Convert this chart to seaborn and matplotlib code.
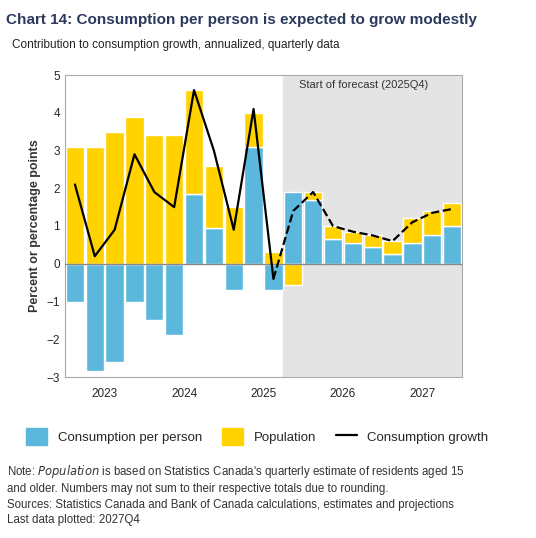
import numpy as np
import matplotlib
matplotlib.use("Agg")
import matplotlib.pyplot as plt
import seaborn as sns
from matplotlib.patches import Patch
from matplotlib.lines import Line2D

quarters = [f"{y}Q{q}" for y in range(2023, 2028) for q in range(1, 5)]
per_person = [-1.0, -2.85, -2.6, -1.0, -1.5, -1.9, 1.85, 0.95, -0.7, 3.1, -0.7,
              1.9, 1.7, 0.65, 0.55, 0.45, 0.25, 0.55, 0.75, 1.0]
population = [3.1, 3.1, 3.5, 3.9, 3.4, 3.4, 2.75, 1.65, 1.5, 0.9, 0.3,
              -0.55, 0.2, 0.35, 0.3, 0.3, 0.35, 0.65, 0.65, 0.6]
growth = [2.1, 0.2, 0.9, 2.9, 1.9, 1.5, 4.6, 3.0, 0.9, 4.1, -0.4,
          1.4, 1.9, 1.0, 0.85, 0.75, 0.6, 1.1, 1.35, 1.45]
years = ["2023", "2024", "2025", "2026", "2027"]
forecast_start = 11

sns.set_style("white")
plt.rcParams['font.family'] = ['Liberation Sans', 'DejaVu Sans']

BLUE = "#5BB8DC"
YELLOW = "#FFD200"

fig = plt.figure(figsize=(5.36, 5.38), dpi=100)
ax = fig.add_axes([65 / 536, 1 - 377 / 538, (462 - 65) / 536, (377 - 75) / 538])

x = np.arange(len(quarters))
pp = np.array(per_person)
pop = np.array(population)
# population stacks on positive per-person part, otherwise from zero
pop_bottom = np.where((pp > 0) & (pop > 0), pp, 0)

ax.axvspan(forecast_start - 0.5, len(x) - 0.5, color="#E4E4E4", zorder=0)
ax.text(forecast_start + 0.3, 4.65, "Start of forecast (2025Q4)", fontsize=8, color="#333333")

ax.bar(x, pp, width=0.92, color=BLUE, zorder=2)
ax.bar(x, pop, bottom=pop_bottom, width=0.92, color=YELLOW, zorder=2)
ax.axhline(0, color="#888888", lw=1, zorder=3)

g = np.array(growth)
ax.plot(x[:forecast_start], g[:forecast_start], color="black", lw=1.6, zorder=4)
ax.plot(x[forecast_start - 1:], g[forecast_start - 1:], color="black", lw=1.6, ls="--", zorder=4)

ax.set_xlim(-0.5, len(x) - 0.5)
ax.set_ylim(-3, 5)
ax.set_yticks(range(-3, 6))
ax.set_xticks([1.5 + 4 * i for i in range(len(years))])
ax.set_xticklabels(years)
ax.set_xticks([3.5 + 4 * i for i in range(4)], minor=True)
ax.tick_params(axis="x", which="major", length=0, labelsize=8.5, pad=8)
ax.tick_params(axis="x", which="minor", length=5, color="#999999")
ax.tick_params(axis="y", labelsize=8.5, length=0)
for s in ax.spines.values():
    s.set_color("#AAAAAA")
ax.set_ylabel("Percent or percentage points", fontsize=9, fontweight="bold", color="#333333")

fig.text(0.012, 0.975, "Chart 14: Consumption per person is expected to grow modestly",
         fontsize=11, fontweight="bold", color="#2B3A5C", va="top")
fig.text(0.022, 0.928, "Contribution to consumption growth, annualized, quarterly data",
         fontsize=8.5, color="#222222", va="top")

handles = [Patch(color=BLUE, label="Consumption per person"),
           Patch(color=YELLOW, label="Population"),
           Line2D([], [], color="black", lw=1.6, label="Consumption growth")]
fig.legend(handles=handles, loc="center", bbox_to_anchor=(0.48, 0.188), ncol=3,
           frameon=False, fontsize=9.5, handlelength=1.6, handleheight=1.6, columnspacing=1.5)

fig.text(0.013, 0.14, "Note: $\\it{Population}$ is based on Statistics Canada's quarterly estimate of residents aged 15\n"
         "and older. Numbers may not sum to their respective totals due to rounding.",
         fontsize=8.3, color="#333333", va="top", linespacing=1.35)
fig.text(0.013, 0.072, "Sources: Statistics Canada and Bank of Canada calculations, estimates and projections\n"
         "Last data plotted: 2027Q4", fontsize=8.3, color="#333333", va="top", linespacing=1.35)

fig.savefig("out.png", dpi=100)
